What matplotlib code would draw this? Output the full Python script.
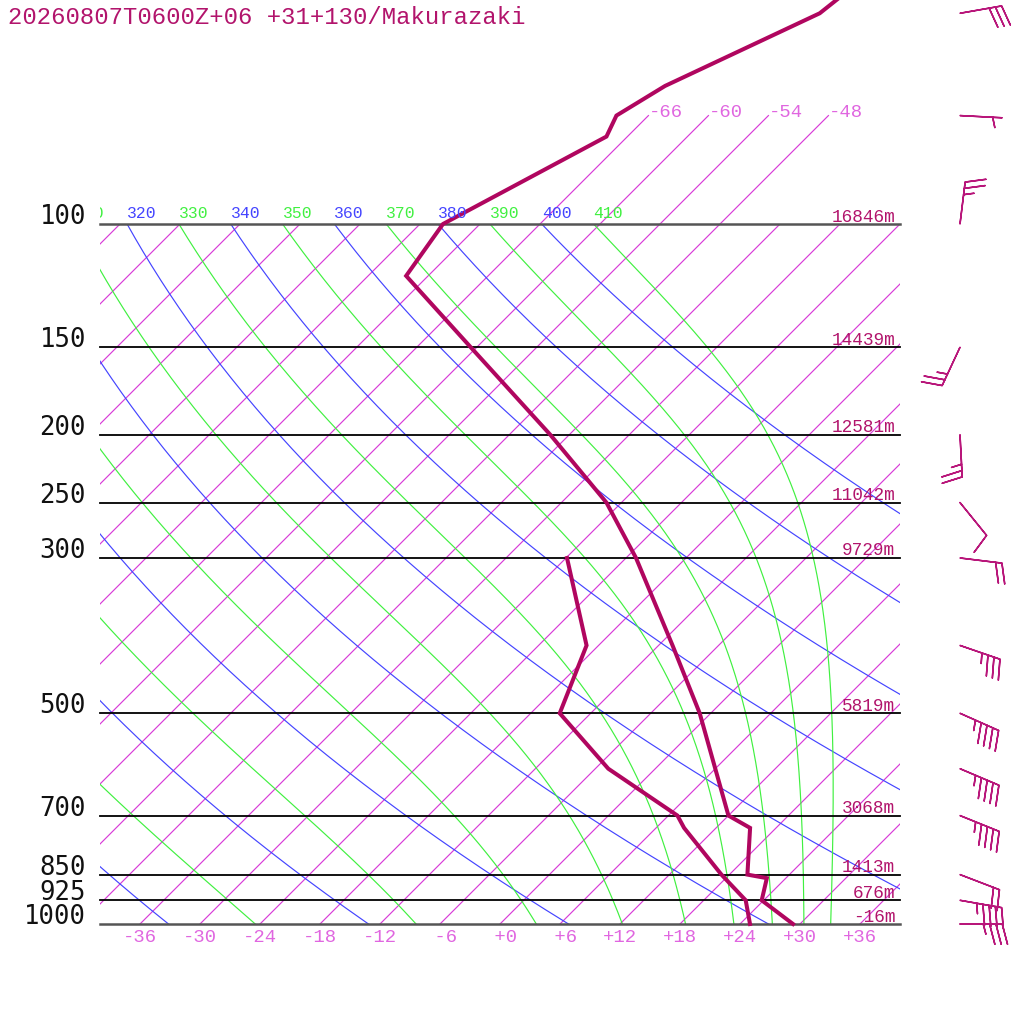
import numpy as np
import matplotlib
matplotlib.use('Agg')
import matplotlib.pyplot as plt
from matplotlib.transforms import (Affine2D, Bbox, TransformedBbox,
                                   blended_transform_factory, offset_copy)

title = '20260807T0600Z+06 +31+130/Makurazaki'

# temperature profile (hPa, degC)
p_temp = [1000, 925, 860, 850, 729, 700, 500, 400, 300, 250, 200, 150,
          118.6, 100, 75, 70, 63.5, 50, 30]
t_temp = [29.3, 23.8, 22.1, 19.8, 15.4, 12.0, -1.1, -10.6, -23.0, -31.5,
          -43.9, -60.6, -74.2, -75.7, -68.1, -69.2, -67.3, -59.1, -55.1]

# dew point profile
p_dew = [1000, 925, 850, 729, 700, 600, 500, 400, 300]
t_dew = [25.0, 22.2, 17.2, 8.8, 6.9, -4.7, -15.1, -19.2, -29.9]

# standard levels and their heights
p_levels = [1000, 925, 850, 700, 500, 300, 250, 200, 150, 100]
heights = ['-16m', '676m', '1413m', '3068m', '5819m', '9729m', '11042m',
           '12581m', '14439m', '16846m']

# winds (direction deg, speed kt)
p_wind = [1000, 925, 850, 700, 600, 500, 400, 300, 250, 200, 150, 100, 70, 50]
wdir = [90, 100, 111, 112, 113, 114, 109, 97, 141, 177, 205, 7, 93, 80]
wspd = [35, 45, 20, 45, 45, 45, 35, 20, 10, 25, 25, 25, 5, 30]

# background lines
isotherms = list(range(-108, 37, 6))
iso_top = [-66, -60, -54, -48]
t_ticks = list(range(-36, 37, 6))
theta_dry = list(range(160, 401, 20))
theta_moist = list(range(150, 411, 20))
theta_labels = list(range(310, 411, 10))

KAPPA = 287.04 / 1005.7
MONO = 'Liberation Mono'
C_PROF = '#b0065f'
C_TEXT = '#b2146c'
C_ISO = '#d83cd8'
C_ISO_LAB = '#e066e0'
C_BLUE = '#4444ff'
C_GREEN = '#40f040'


def moist_curve(theta, p):
    """pseudo-adiabat starting from 100 hPa at the dry theta temperature"""
    Rd, cp, Lv, eps = 287.04, 1005.7, 2.501e6, 0.622

    def f(T, pp):
        es = 6.112 * np.exp(17.67 * (T - 273.15) / (T - 29.65))
        rs = eps * es / (pp - es)
        return (Rd * T + Lv * rs) / (cp + Lv**2 * rs * eps / (Rd * T**2))

    T = theta * (p[0] / 1000.0) ** KAPPA
    out = [T]
    for i in range(1, len(p)):
        h = np.log(p[i]) - np.log(p[i - 1])
        lp = np.log(p[i - 1])
        k1 = f(T, np.exp(lp))
        k2 = f(T + h * k1 / 2, np.exp(lp + h / 2))
        k3 = f(T + h * k2 / 2, np.exp(lp + h / 2))
        k4 = f(T + h * k3, np.exp(lp + h))
        T = T + h * (k1 + 2 * k2 + 2 * k3 + k4) / 6
        out.append(T)
    return np.array(out) - 273.15


fig = plt.figure(figsize=(10.24, 10.24), dpi=100)
ax = fig.add_axes([100 / 1024, 100 / 1024, 800 / 1024, 700 / 1024])
ax.set_yscale('log')
ax.set_xlim(-40, 40)
ax.set_ylim(1000, 100)
ax.axis('off')

# 45 degree skew about the 1000 hPa line
y0 = ax.transData.transform((0, 1000))[1]
skew = Affine2D().translate(0, -y0).skew_deg(45, 0).translate(0, y0)
tr = ax.transData + skew
trh = blended_transform_factory(ax.transAxes, ax.transData)

# isotherms
for t in isotherms:
    ax.plot([t, t], [1000, 100], transform=tr, color=C_ISO, lw=0.85)
for t in iso_top:
    ax.plot([t, t], [100, 70], transform=tr, color=C_ISO, lw=0.85, clip_on=False)
    ax.text(t, 70, '%+d' % t, transform=offset_copy(tr, fig=fig, y=-1.5, units='dots'),
            ha='left', va='baseline', color=C_ISO_LAB, fontsize=13.6, family=MONO)

# dry and moist adiabats
pp = np.geomspace(100, 1000, 300)
for th in theta_dry:
    ax.plot(th * (pp / 1000) ** KAPPA - 273.15, pp, transform=tr, color=C_BLUE, lw=0.85)
for th in theta_moist:
    ax.plot(moist_curve(th, pp), pp, transform=tr, color=C_GREEN, lw=0.85)

# theta labels along 100 hPa, cut at the left edge of the diagram
clip = TransformedBbox(Bbox([[100 / 1024, 0], [1, 1]]), fig.transFigure)
for th in theta_labels:
    c = C_BLUE if (th // 10) % 2 == 0 else C_GREEN
    txt = ax.text(th * 0.1 ** KAPPA - 273.15, 100, str(th),
                  transform=offset_copy(tr, fig=fig, y=5.5, units='dots'),
                  ha='left', va='baseline', color=c, fontsize=11.8, family=MONO)
    txt.set_clip_on(True)
    txt.set_clip_box(clip)

# isobars, pressure and height labels
for p, h in zip(p_levels, heights):
    edge = p in (100, 1000)
    ax.axhline(p, color='#555555' if edge else 'black', lw=1.8 if edge else 1.3,
               clip_on=False)
    ax.text(-14 / 800, p, str(p), transform=trh, ha='right', va='baseline',
            fontsize=18.5, family='DejaVu Sans Mono', color='#111111')
    ax.text(0.994, p, h, transform=offset_copy(trh, fig=fig, y=2.5, units='dots'),
            ha='right', va='baseline', fontsize=12.8, family=MONO, color=C_TEXT)

for t in t_ticks:
    ax.text(t, 1000, '%+3d' % t, transform=offset_copy(tr, fig=fig, y=-18, units='dots'),
            ha='center', va='baseline', fontsize=13.6, family=MONO, color=C_ISO_LAB)

# temperature and dew point
ax.plot(t_temp, p_temp, transform=tr, color=C_PROF, lw=2.9, clip_on=False,
        solid_joinstyle='miter')
ax.plot(t_dew, p_dew, transform=tr, color=C_PROF, lw=2.9, clip_on=False,
        solid_joinstyle='miter')

fig.text(8 / 1024, 1 - 17 / 1024, title, ha='left', va='center', fontsize=17.2,
         family=MONO, color=C_TEXT)

# wind barbs on the right
axw = fig.add_axes([940 / 1024, 0, 40 / 1024, 1])
inv = ax.transData.inverted()
p_bot = inv.transform((0, 0))[1]
p_top = inv.transform((0, fig.bbox.height))[1]
axw.set_yscale('log')
axw.set_ylim(p_bot, p_top)
axw.set_xlim(-1, 1)
axw.axis('off')
rad = np.radians(wdir)
u = -np.array(wspd) * np.sin(rad)
v = -np.array(wspd) * np.cos(rad)
axw.barbs(np.zeros(len(p_wind)), p_wind, u, v, length=7.8, color='#b8167a', lw=1.1,
          sizes=dict(spacing=0.15, height=0.48, width=0.25), clip_on=False)

fig.savefig('out.png', dpi=100, facecolor='white')
